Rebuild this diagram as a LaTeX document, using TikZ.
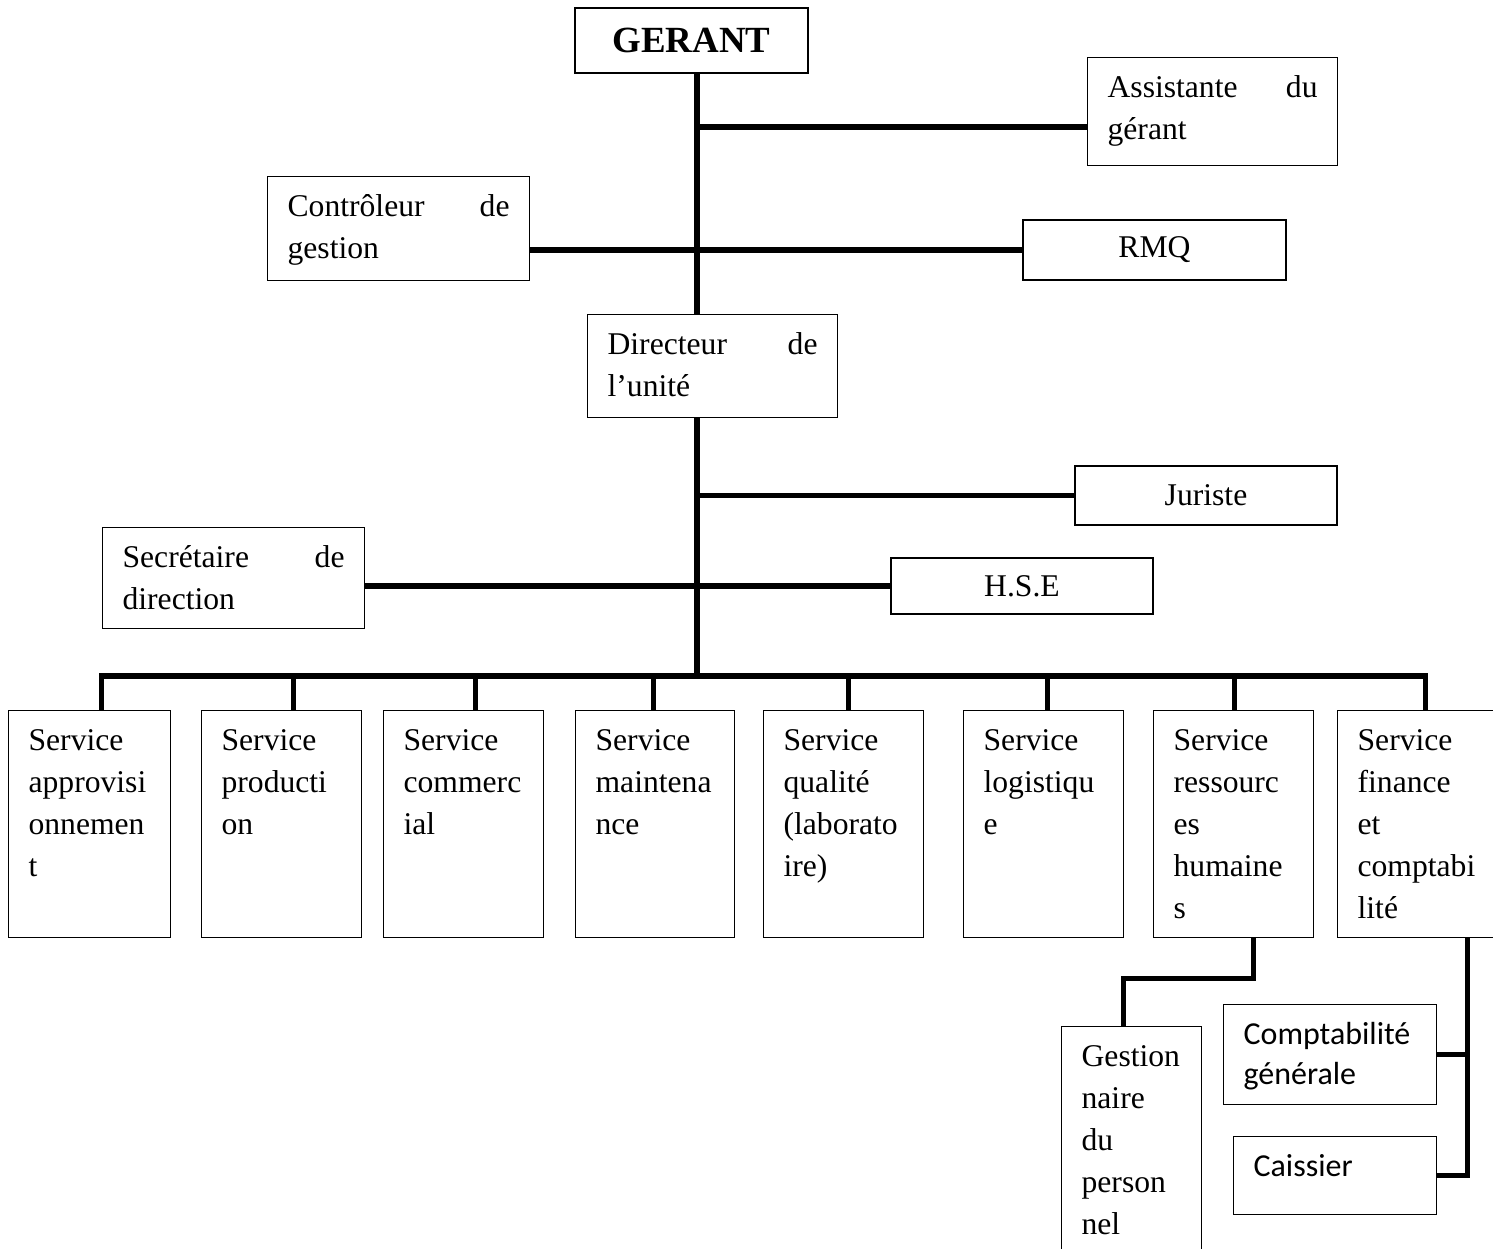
\documentclass[tikz,border=0pt]{standalone}
\usepackage{fontspec}
\setmainfont{Liberation Serif}
\newfontfamily\calibrifont{Carlito}
\usetikzlibrary{positioning}
\newcommand\orgtext{\fontsize{18pt}{23.9pt}\selectfont}
\newcommand\orgcal{\calibrifont\fontsize{18.2pt}{22.8pt}\selectfont}

\begin{document}
\begin{tikzpicture}[x=0.02cm,y=-0.02cm,
  box/.style={draw,line width=0.7pt,anchor=north west,align=left,
              inner xsep=0.4cm,inner ysep=0.2cm,text height=0.6cm,font=\orgtext},
  pair/.style={box,text width=4.44cm,text depth=1.08cm},
  svc/.style={box,text width=2.4cm,text depth=3.54cm},
  tag/.style={draw,line width=0.7pt,minimum width=5.24cm,minimum height=1.16cm,
              inner sep=0pt,font=\orgtext},
  link/.style={line width=2.9pt}
]
  \clip (0,0) rectangle (1493,1248);
  \fill[white] (0,0) rectangle (1493,1248);

  %% ---- top of the chart ----
  \node[draw,line width=0.7pt,minimum width=4.66cm,minimum height=1.3cm,
        font=\fontsize{21pt}{25pt}\selectfont\bfseries] (gerant) at (691.5,40.5) {GERANT};
  \node[pair,text width=4.2cm,text depth=1.16cm] (assist) at (1087,57)
    {Assistante\hfill du\\gérant};
  \node[pair] (ctrl) at (267,176) {Contrôleur\hfill de\\gestion};
  \node[tag,minimum width=5.26cm,minimum height=1.2cm] (rmq) at (1154.5,250) {RMQ};
  \node[pair,text width=4.2cm,text depth=1.06cm] (dir) at (587,314)
    {Directeur\hfill de\\l’unité};

  %% ---- staff of the director ----
  \node[tag,minimum height=1.18cm] (jur) at (1206,495.5) {Juriste};
  \node[pair,text depth=1.02cm] (secr) at (102,527) {Secrétaire\hfill de\\direction};
  \node[tag,minimum height=1.12cm] (hse) at (1022,586) {H.S.E};

  %% ---- services ----
  \node[svc,text width=2.44cm] (appro) at (8,710) {Service\\approvisi\\onnemen\\t};
  \node[svc] (prod)  at (201,710)  {Service\\producti\\on};
  \node[svc] (comm)  at (383,710)  {Service\\commerc\\ial};
  \node[svc,text width=2.38cm] (maint) at (575,710) {Service\\maintena\\nce};
  \node[svc] (qual)  at (763,710)  {Service\\qualité\\(laborato\\ire)};
  \node[svc] (logi)  at (963,710)  {Service\\logistiqu\\e};
  \node[svc] (rh)    at (1153,710) {Service\\ressourc\\es\\humaine\\s};
  \node[svc] (fin)   at (1337,710) {Service\\finance\\et\\comptabi\\lité};

  %% ---- under RH and finance ----
  \node[box,text width=2cm,text depth=3.8cm] (gest) at (1061,1026)
    {Gestion\\naire\\du\\person\\nel};
  \node[box,font=\orgcal,text width=3.46cm,text depth=1cm] (compta) at (1223,1004)
    {Comptabilité\\générale};
  \node[box,font=\orgcal,text width=3.26cm,text depth=0.56cm] (caiss) at (1233,1136)
    {Caissier};

  %% ---- links ----
  \coordinate (bus) at (697,676);
  \coordinate (asst) at (697,127);
  \draw[link] (gerant.south -| bus) -- (dir.north -| bus);
  \draw[link] (dir.south -| bus) -- (bus);
  \draw[link] (asst) -- (asst -| assist.west);
  \draw[link] (ctrl.east |- rmq.west) -- (rmq.west);
  \draw[link] (jur.west) -- (jur.west -| bus);
  \draw[link] (secr.east |- hse.west) -- (hse.west);

  % bus and drops to the services
  \foreach \s/\d in {appro/12,prod/12,comm/12,maint/-1.5,qual/5,logi/4,rh/1,fin/8}
    \draw[link] ([xshift=\d*0.02cm]\s.north) |- (bus);

  % RH down to personnel, finance down to its two units
  \coordinate (rhdrop) at ([xshift=0.4cm]rh.south);
  \coordinate (findrop) at ([xshift=1cm]fin.south);
  \draw[link] (rhdrop) -- ++(0,40) -| ([xshift=-0.16cm]gest.north);
  \draw[link] (findrop) |- (caiss.east);
  \draw[link] (compta.east) -- (compta.east -| findrop);
\end{tikzpicture}
\end{document}
